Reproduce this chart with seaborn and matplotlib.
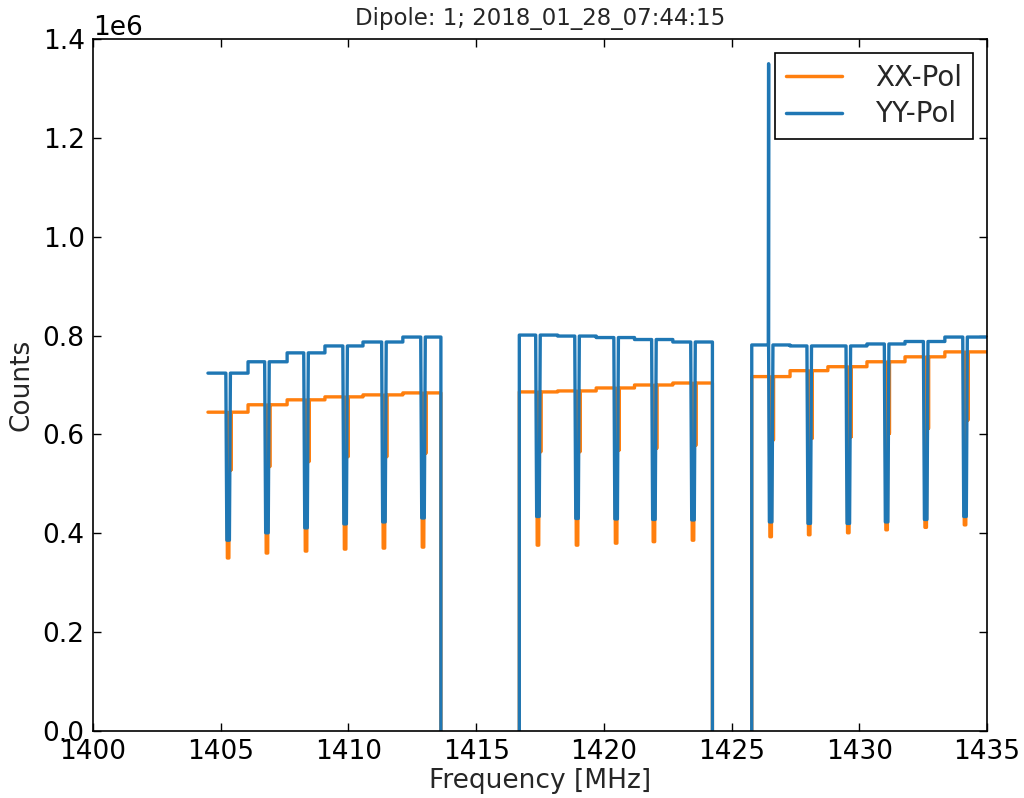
import matplotlib
matplotlib.use("Agg")
import matplotlib.pyplot as plt
import numpy as np
import pandas as pd
import seaborn as sns

# --- values ---
seg_start = [1404.5, 1416.69, 1425.79]
seg_end = [1413.62, 1424.25, 1435.0]

dip_freqs = [[1405.29, 1406.81, 1408.34, 1409.87, 1411.39, 1412.92],
             [1417.42, 1418.95, 1420.48, 1421.96, 1423.49],
             [1426.53, 1428.04, 1429.57, 1431.07, 1432.60, 1434.14]]
step_freqs = [[1406.07, 1407.60, 1409.08, 1410.57, 1412.13],
              [1418.19, 1419.70, 1421.20, 1422.70],
              [1427.29, 1428.77, 1430.30, 1431.79, 1433.35]]

yy_level = [[0.724e6, 0.747e6, 0.765e6, 0.779e6, 0.787e6, 0.797e6],
            [0.801e6, 0.799e6, 0.796e6, 0.792e6, 0.787e6],
            [0.781e6, 0.779e6, 0.779e6, 0.783e6, 0.788e6, 0.797e6]]
yy_bottom = [[0.386e6, 0.401e6, 0.411e6, 0.419e6, 0.423e6, 0.431e6],
             [0.434e6, 0.430e6, 0.429e6, 0.428e6, 0.427e6],
             [0.423e6, 0.420e6, 0.420e6, 0.423e6, 0.428e6, 0.434e6]]

xx_level = [[0.645e6, 0.660e6, 0.670e6, 0.676e6, 0.680e6, 0.684e6],
            [0.686e6, 0.688e6, 0.694e6, 0.700e6, 0.704e6],
            [0.717e6, 0.729e6, 0.737e6, 0.747e6, 0.757e6, 0.767e6]]
xx_bottom = [[0.350e6, 0.360e6, 0.364e6, 0.368e6, 0.370e6, 0.372e6],
             [0.376e6, 0.376e6, 0.380e6, 0.383e6, 0.386e6],
             [0.393e6, 0.397e6, 0.401e6, 0.407e6, 0.412e6, 0.417e6]]
xx_shoulder = [[0.528e6, 0.535e6, 0.545e6, 0.555e6, 0.555e6, 0.562e6],
               [0.565e6, 0.565e6, 0.568e6, 0.572e6, 0.578e6],
               [0.589e6, 0.592e6, 0.595e6, 0.602e6, 0.612e6, 0.629e6]]

spike_freq = 1426.45
spike_value = 1.35e6

labels = ['XX-Pol', 'YY-Pol']
colors = ['#ff7f0e', '#1f77b4']


def build(pol):
    fs, vs, us = [], [], []
    for s in range(len(seg_start)):
        lev = xx_level[s] if pol == 'XX-Pol' else yy_level[s]
        f, v = [], []
        if s > 0:
            f.append(seg_start[s]); v.append(0)
        f.append(seg_start[s]); v.append(lev[0])
        for k, c in enumerate(dip_freqs[s]):
            if k > 0:
                f += [step_freqs[s][k - 1], step_freqs[s][k - 1]]
                v += [lev[k - 1], lev[k]]
            if pol == 'XX-Pol':
                f += [c - 0.05, c - 0.03, c + 0.03, c + 0.05,
                      c + 0.11, c + 0.11, c + 0.11]
                v += [lev[k], xx_bottom[s][k], xx_bottom[s][k], lev[k],
                      lev[k], xx_shoulder[s][k], lev[k]]
            else:
                f.append(c - 0.09); v.append(lev[k])
                if s == 2 and k == 0:
                    f += [spike_freq, spike_freq]
                    v += [spike_value, lev[k]]
                f += [c - 0.05, c + 0.05, c + 0.09]
                v += [yy_bottom[s][k], yy_bottom[s][k], lev[k]]
        f.append(seg_end[s]); v.append(lev[-1])
        if s < len(seg_start) - 1:
            f.append(seg_end[s]); v.append(0)
        fs += f; vs += v; us += [s] * len(f)
    return pd.DataFrame({'freq': fs, 'counts': vs, 'seg': us, 'pol': pol})


df = pd.concat([build(p) for p in labels], ignore_index=True)

sns.set_theme(style="ticks")
plt.rcParams['font.family'] = ['DejaVu Sans']
plt.rcParams.update({
    'xtick.direction': 'in', 'ytick.direction': 'in',
    'xtick.top': True, 'ytick.right': True,
    'xtick.major.size': 6, 'ytick.major.size': 6,
    'xtick.major.width': 1, 'ytick.major.width': 1,
    'axes.edgecolor': 'black', 'axes.linewidth': 1.2,
    'xtick.color': 'black', 'ytick.color': 'black',
})

fig = plt.figure(figsize=(10.24, 7.98), dpi=100)
ax = fig.add_axes([93 / 1024, 1 - 731 / 798, 894 / 1024, 692 / 798])

sns.lineplot(data=df, x='freq', y='counts', hue='pol', hue_order=labels,
             units='seg', palette=colors, sort=False, estimator=None,
             linewidth=2.4, ax=ax)

ax.set_xlim(1400, 1435)
ax.set_ylim(0, 1.4e6)
ax.set_xticks([1400, 1405, 1410, 1415, 1420, 1425, 1430, 1435])
ax.set_yticks([0, 0.2e6, 0.4e6, 0.6e6, 0.8e6, 1.0e6, 1.2e6, 1.4e6])
ax.tick_params(labelsize=19, pad=6)
ax.yaxis.get_offset_text().set_fontsize(19)
ax.set_xlabel('Frequency [MHz]', fontsize=19, labelpad=2)
ax.set_ylabel('Counts', fontsize=19, labelpad=6)
ax.set_title('Dipole: 1; 2018_01_28_07:44:15', fontsize=16.5, pad=10)

h, l = ax.get_legend_handles_labels()
leg = ax.legend(h, l, loc='upper right', fontsize=20, fancybox=False,
                framealpha=1, edgecolor='black', handlelength=2.0,
                handletextpad=1.2, borderpad=0.4, labelspacing=0.3,
                borderaxespad=0.5)
leg.get_frame().set_linewidth(1.2)
for line in leg.get_lines():
    line.set_linewidth(2.5)

fig.savefig('out.png', dpi=100)
